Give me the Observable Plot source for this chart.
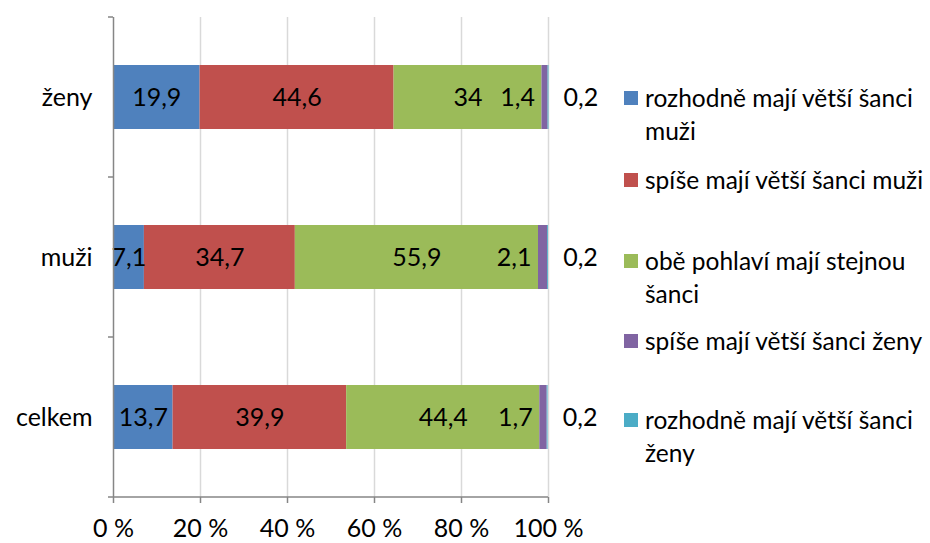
<!DOCTYPE html>
<html><head><meta charset="utf-8">
<script src="https://cdn.jsdelivr.net/npm/d3@7"></script>
<script src="https://cdn.jsdelivr.net/npm/@observablehq/plot@0.6"></script>
<style>
body{margin:0;background:#fff;font-family:Lato, sans-serif;}
#wrap{position:relative;width:930px;height:543px;}
.item{position:absolute;left:624px;display:flex;align-items:flex-start;font-size:24.5px;line-height:33px;color:#000;white-space:nowrap;}
.sw{width:14px;height:14px;margin-top:10px;margin-right:7px;flex:none}
</style></head><body><div id="wrap"></div>
<script>
const categories = ["ženy", "muži", "celkem"];
const seriesNames = [
  "rozhodně mají větší šanci muži",
  "spíše mají větší šanci muži",
  "obě pohlaví mají stejnou šanci",
  "spíše mají větší šanci ženy",
  "rozhodně mají větší šanci ženy"
];
const legendLines = [
  ["rozhodně mají větší šanci", "muži"],
  ["spíše mají větší šanci muži"],
  ["obě pohlaví mají stejnou", "šanci"],
  ["spíše mají větší šanci ženy"],
  ["rozhodně mají větší šanci", "ženy"]
];
const seriesColors = ["#4F81BD", "#C0504D", "#9BBB59", "#8064A2", "#4BACC6"];
const zenyValues = [19.9, 44.6, 34, 1.4, 0.2];
const muziValues = [7.1, 34.7, 55.9, 2.1, 0.2];
const celkemValues = [13.7, 39.9, 44.4, 1.7, 0.2];
const xTicks = [0, 20, 40, 60, 80, 100];

const valuesByCat = [zenyValues, muziValues, celkemValues];
const rows = [];
categories.forEach((cat, i) => {
  let acc = 0;
  valuesByCat[i].forEach((v, j) => {
    rows.push({cat, series: seriesNames[j], value: v, x1: acc, x2: acc + v, j});
    acc += v;
  });
});
const fmt = v => String(v).replace(".", ",");

const W = 930, H = 543, mL = 113, mR = 382, mT = 17, mB = 46;
const FS = 25;
const plot = Plot.plot({
  width: W, height: H,
  marginLeft: mL, marginRight: mR, marginTop: mT, marginBottom: mB,
  style: {fontFamily: "Lato, sans-serif", fontSize: FS + "px", color: "#000", background: "#fff", overflow: "visible"},
  x: {domain: [0, 100], label: null},
  y: {domain: categories, paddingInner: 0.6, paddingOuter: 0.3, label: null},
  color: {domain: seriesNames, range: seriesColors},
  marks: [
    Plot.gridX(xTicks.slice(1), {stroke: "#d9d9d9", strokeOpacity: 1, strokeWidth: 1.5}),
    Plot.barX(rows, {x1: "x1", x2: "x2", y: "cat", fill: "series"}),
    Plot.text(rows.filter(d => d.j < 3), {x: d => (d.x1 + d.x2) / 2, y: "cat", text: d => fmt(d.value), fill: "#000", fontSize: FS}),
    Plot.text(rows.filter(d => d.j === 3), {x: "x1", y: "cat", text: d => fmt(d.value), textAnchor: "end", dx: -7, fill: "#000", fontSize: FS}),
    Plot.text(rows.filter(d => d.j === 4), {x: "x2", y: "cat", text: d => fmt(d.value), dx: 32, fill: "#000", fontSize: FS}),
    Plot.ruleX([0], {stroke: "#868686", strokeWidth: 1.5}),
    Plot.axisY({tickSize: 0, tickPadding: 21, fontSize: FS}),
    Plot.axisX({ticks: xTicks, tickFormat: d => d + " %", tickSize: 6, tickPadding: 16, stroke: "#868686", strokeWidth: 1.5, fontSize: FS})
  ]
});
document.getElementById("wrap").appendChild(plot);

// axis line at bottom and category boundary ticks
const svg = d3.select(plot);
const xs = plot.scale("x");
const step = (H - mB - mT) / categories.length;
svg.append("line").attr("x1", xs.apply(0)).attr("x2", xs.apply(100))
  .attr("y1", H - mB).attr("y2", H - mB).attr("stroke", "#868686").attr("stroke-width", 1.5);
for (let i = 0; i <= categories.length; i++) {
  const y = mT + i * step;
  svg.append("line").attr("x1", mL - 5).attr("x2", mL).attr("y1", y).attr("y2", y)
    .attr("stroke", "#868686").attr("stroke-width", 1.5);
}

// legend
const centers = [98, 180, 261, 341, 420];
const wrap = document.getElementById("wrap");
seriesNames.forEach((s, i) => {
  const it = document.createElement("div");
  it.className = "item";
  it.style.top = (centers[i] - 17) + "px";
  const sw = document.createElement("div");
  sw.className = "sw"; sw.style.background = seriesColors[i];
  const tx = document.createElement("div");
  tx.innerHTML = legendLines[i].join("<br>");
  it.appendChild(sw); it.appendChild(tx);
  wrap.appendChild(it);
});
</script></body></html>
